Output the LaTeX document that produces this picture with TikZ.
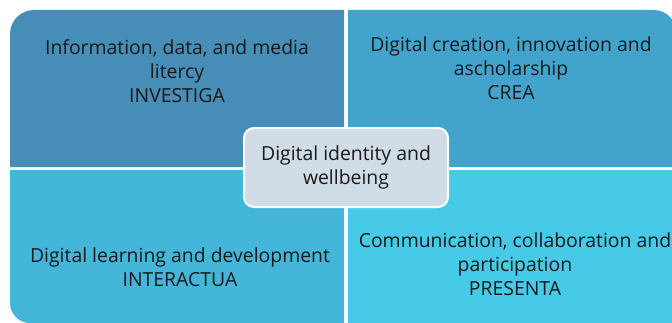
\documentclass[tikz,border=0pt]{standalone}
\usepackage{fontspec}
\setmainfont{Open Sans}
\definecolor{tlcol}{RGB}{70,141,183}
\definecolor{trcol}{RGB}{66,164,205}
\definecolor{blcol}{RGB}{67,182,218}
\definecolor{brcol}{RGB}{70,202,232}
\definecolor{centcol}{RGB}{208,220,230}
\definecolor{txtcol}{RGB}{25,25,25}
\tikzset{
  quadtext/.style={align=center, text=txtcol, font=\fontsize{19.4}{24}\selectfont, inner sep=0pt},
  centbox/.style={draw=white, line width=2pt, fill=centcol, rounded corners=10pt,
    minimum width=204pt, minimum height=79pt, align=center, text=txtcol,
    font=\fontsize{19.4}{24}\selectfont, inner sep=0pt}
}
\begin{document}
\begin{tikzpicture}[x=1pt,y=1pt]
\useasboundingbox (0,0) rectangle (672,322);
\clip (0,0) rectangle (672,322);
% quadrants
\fill[tlcol] (344,155) -- (10,155) -- (10,288) arc[start angle=180,end angle=90,radius=24] -- (344,312) -- cycle;
\fill[trcol] (348,155) -- (348,312) -- (654,312) arc[start angle=90,end angle=0,radius=22] -- (676,155) -- cycle;
\fill[blcol] (10,152) -- (344,152) -- (344,-1) -- (30,-1) arc[start angle=270,end angle=180,radius=20] -- cycle;
\fill[brcol] (348,152) rectangle (690,-10);
% texts
\node[quadtext] (tl) at (177,251) {Information, data, and media\\litercy\\INVESTIGA};
\node[quadtext] (tr) at (511,254) {Digital creation, innovation and\\ascholarship\\CREA};
\node[quadtext] (bl) at (180,55) {Digital learning and development\\INTERACTUA};
\node[quadtext] (br) at (515,58) {Communication, collaboration and\\participation\\PRESENTA};
% centre
\node[centbox] (c) at (346,154.5) {Digital identity and\\wellbeing};
\end{tikzpicture}
\end{document}
